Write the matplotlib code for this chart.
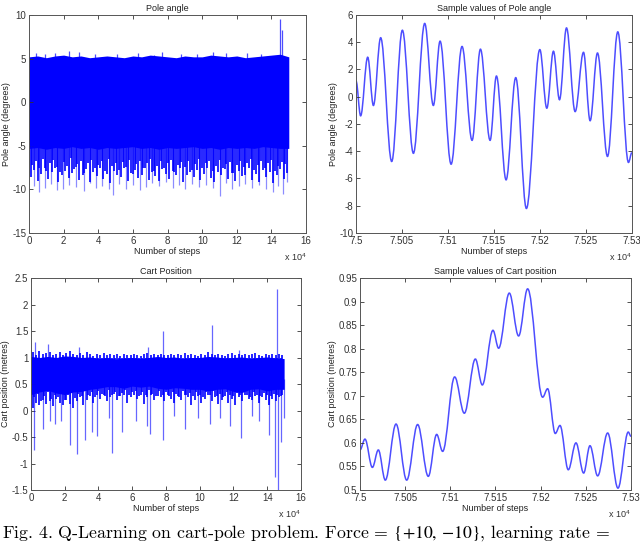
import numpy as np
import matplotlib
matplotlib.use("Agg")
import matplotlib.pyplot as plt
from matplotlib.path import Path
from matplotlib.patches import PathPatch
from matplotlib.ticker import FuncFormatter, MultipleLocator

plt.rcParams["font.family"] = ["Liberation Sans", "DejaVu Sans"]
plt.rcParams["axes.unicode_minus"] = False
plt.rcParams["mathtext.fontset"] = "custom"
plt.rcParams["mathtext.rm"] = "Liberation Sans"
plt.rcParams["mathtext.it"] = "Liberation Sans:italic"

BLUE = "#0000ff"

# ---------------- Pole angle, full run (dense trace, read as envelopes) -------------
pole_env_steps = np.arange(0, 150001, 5000)
pole_upper = [5.2, 5.3, 5.1, 5.3, 5.4, 5.2, 5.3, 5.1, 5.2, 5.3, 5.2, 5.1, 5.3, 5.2, 5.4, 5.3,
              5.2, 5.1, 5.3, 5.2, 5.2, 5.4, 5.3, 5.2, 5.3, 5.1, 5.2, 5.3, 5.4, 5.5, 5.2]
pole_lower = [-5.3, -5.2, -5.4, -5.2, -5.3, -5.1, -5.3, -5.2, -5.4, -5.2, -5.3, -5.2, -5.1, -5.3,
              -5.2, -5.4, -5.2, -5.3, -5.2, -5.1, -5.3, -5.2, -5.4, -5.2, -5.3, -5.2, -5.3, -5.1,
              -5.2, -5.3, -5.3]

pole_dark_steps = np.arange(1000, 150000, 2000)
pole_dark_min = [-8.6, -7.8, -9.0, -8.2, -7.5, -8.8, -8.0, -7.6, -9.2, -8.4,
                 -7.9, -8.7, -8.1, -7.4, -8.9, -8.3, -7.7, -9.1, -8.0, -8.5,
                 -7.6, -8.8, -8.2, -9.3, -7.9, -8.4, -8.6, -7.5, -9.0, -8.1,
                 -7.8, -8.7, -8.3, -7.6, -8.9, -8.0, -8.5, -9.0, -7.7, -8.2,
                 -8.8, -7.9, -8.4, -7.5, -9.1, -8.3, -8.0, -8.6, -7.8, -8.9,
                 -8.2, -7.6, -8.7, -9.2, -8.0, -8.4, -7.7, -8.8, -8.1, -9.0,
                 -7.9, -8.5, -8.3, -7.6, -8.9, -8.2, -9.1, -7.8, -8.6, -8.0,
                 -9.3, -8.4, -7.7, -8.8, -8.1]
pole_dark_steps2 = np.arange(2000, 150000, 2000)
pole_dark_min2 = [-7.2, -6.8, -7.6, -6.5, -7.9, -7.0, -6.6, -7.4, -8.0, -6.9,
                  -7.3, -6.4, -7.7, -7.1, -6.7, -8.1, -7.0, -6.6, -7.5, -7.2,
                  -6.8, -7.9, -6.5, -7.3, -7.0, -7.8, -6.9, -7.4, -6.6, -8.2,
                  -7.1, -6.7, -7.6, -7.0, -6.5, -7.9, -7.3, -6.8, -7.5, -7.0,
                  -6.6, -8.0, -7.2, -6.9, -7.4, -6.7, -7.8, -7.1, -6.5, -7.6,
                  -7.0, -6.8, -7.9, -7.3, -6.6, -7.5, -7.1, -6.9, -8.1, -7.2,
                  -6.7, -7.4, -7.0, -6.5, -7.8, -7.2, -6.8, -7.6, -7.0, -6.6,
                  -7.9, -7.3, -6.9, -7.1]

pole_light_steps = [3000, 5500, 9000, 12500, 16000, 19500, 23000, 27000, 31500, 35000,
                    38500, 42000, 46000, 48500, 52000, 56000, 60000, 64000, 67500, 71000,
                    75000, 79000, 83000, 86500, 90000, 94000, 98000, 102000, 106000, 110000,
                    113500, 117000, 121000, 125000, 129000, 133000, 137000, 141000, 143500,
                    146500, 149000]
pole_light_min = [-9.6, -10.3, -9.8, -9.4, -10.1, -9.9, -9.5, -9.7, -10.2, -9.3,
                  -9.8, -9.6, -10.0, -10.6, -9.4, -9.9, -9.5, -10.1, -9.7, -9.3,
                  -9.6, -9.2, -9.8, -9.5, -9.9, -9.4, -9.7, -9.5, -9.8, -10.7,
                  -9.3, -9.9, -9.6, -9.4, -9.8, -9.5, -10.0, -10.3, -9.6, -10.5, -9.2]

pole_top_steps = [4000, 9000, 15000, 23000, 29000, 38000, 51000, 63000, 72000, 77000, 88000,
                  97000, 106000, 114000, 126000, 134000, 145000, 146000]
pole_top_max = [5.6, 5.5, 5.6, 5.9, 5.7, 5.5, 5.5, 5.6, 5.4, 5.8, 5.5,
                5.5, 5.8, 5.6, 5.6, 5.5, 9.5, 8.3]

# ---------------- Pole angle, sample window (extrema of the trace) -------------
pole_s_steps = [75000, 75005, 75012.7, 75018.9, 75026.8, 75038.8, 75050.4, 75062.4, 75074.7,
                75084.1, 75091.4, 75103.4, 75115.3, 75126.2, 75135.3, 75145.8, 75152.7,
                75163.2, 75173.7, 75185.3, 75199.9, 75207.5, 75214.7, 75221.3, 75228.9,
                75238.3, 75247.4, 75254.6, 75262.6, 75273.5, 75284.7, 75296.3, 75300]
pole_s_vals = [1.15, -1.4, 2.9, -0.64, 4.33, -4.75, 4.88, -4.15, 5.38,
               -0.64, 4.08, -4.95, 3.69, -3.2, 3.49, -3.2, 1.52,
               -6.1, 1.4, -8.2, 3.46, -0.84, 3.34, -0.22, 5.05,
               -1.09, 3.26, -1.76, 3.21, -4.38, 4.76, -4.82, -4.1]

# ---------------- Cart position, full run -------------
cart_env_steps = np.arange(0, 150001, 5000)
cart_upper = [1.02, 1.0, 1.02, 1.0, 1.03, 1.02, 1.0, 1.01, 0.98, 1.0, 0.97, 0.99, 1.0, 0.98,
              1.0, 1.02, 1.0, 1.01, 0.98, 1.0, 1.0, 1.02, 1.01, 0.99, 1.0, 1.01, 0.98, 1.0,
              1.01, 0.99, 0.98]
cart_lower = [0.3, 0.35, 0.38, 0.33, 0.3, 0.35, 0.36, 0.4, 0.42, 0.45, 0.45, 0.42, 0.46, 0.44,
              0.46, 0.42, 0.4, 0.43, 0.42, 0.4, 0.4, 0.37, 0.4, 0.41, 0.36, 0.34, 0.4, 0.41,
              0.37, 0.4, 0.4]

cart_dark_steps = np.arange(1000, 150000, 2000)
cart_dark_min = [0.05, 0.15, 0.1, 0.2, 0.12, 0.18, 0.08, 0.22, 0.15, 0.1,
                 0.2, 0.12, 0.05, 0.18, 0.25, 0.1, 0.2, 0.28, 0.15, 0.3,
                 0.22, 0.3, 0.18, 0.25, 0.32, 0.2, 0.28, 0.3, 0.15, 0.26,
                 0.3, 0.22, 0.3, 0.12, 0.25, 0.3, 0.2, 0.28, 0.25, 0.18,
                 0.3, 0.22, 0.15, 0.28, 0.2, 0.3, 0.25, 0.1, 0.2, 0.28,
                 0.15, 0.22, 0.3, 0.18, 0.25, 0.12, 0.2, 0.28, 0.15, 0.22,
                 0.1, 0.25, 0.18, 0.3, 0.22, 0.2, 0.28, 0.15, 0.25, 0.2,
                 0.1, 0.22, 0.18, 0.25, 0.3]
cart_dark_max = [1.1, 1.05, 1.12, 1.06, 1.08, 1.1, 1.04, 1.07, 1.1, 1.05,
                 1.08, 1.12, 1.06, 1.04, 1.08, 1.05, 1.1, 1.06, 1.03, 1.07,
                 1.05, 1.08, 1.04, 1.06, 1.05, 1.07, 1.03, 1.06, 1.05, 1.04,
                 1.07, 1.05, 1.03, 1.06, 1.08, 1.04, 1.07, 1.05, 1.06, 1.04,
                 1.05, 1.07, 1.04, 1.06, 1.05, 1.08, 1.04, 1.06, 1.05, 1.03,
                 1.07, 1.05, 1.1, 1.06, 1.04, 1.07, 1.05, 1.03, 1.06, 1.08,
                 1.04, 1.06, 1.05, 1.07, 1.04, 1.06, 1.08, 1.05, 1.03, 1.06,
                 1.05, 1.07, 1.04, 1.06, 1.05]
cart_dark_steps2 = np.arange(2000, 150000, 2000)
cart_dark_min2 = [0.25, 0.32, 0.18, 0.28, 0.35, 0.22, 0.3, 0.26, 0.34, 0.2,
                  0.3, 0.36, 0.24, 0.32, 0.28, 0.38, 0.3, 0.34, 0.26, 0.36,
                  0.32, 0.28, 0.38, 0.3, 0.35, 0.27, 0.33, 0.38, 0.3, 0.34,
                  0.36, 0.28, 0.35, 0.3, 0.38, 0.32, 0.27, 0.36, 0.3, 0.34,
                  0.28, 0.35, 0.32, 0.26, 0.36, 0.3, 0.33, 0.28, 0.35, 0.3,
                  0.26, 0.34, 0.3, 0.36, 0.28, 0.32, 0.25, 0.34, 0.3, 0.27,
                  0.33, 0.29, 0.35, 0.3, 0.26, 0.34, 0.3, 0.28, 0.33, 0.3,
                  0.27, 0.32, 0.3, 0.28]

cart_spike_steps = [1500, 2500, 7000, 10000, 11000, 14500, 18000, 23000, 27500, 28500,
                    32000, 36000, 39000, 46000, 48000, 54000, 62000, 68500, 69500, 70500,
                    78000, 78500, 85000, 91000, 99000, 106000, 107000, 112000, 118000,
                    123000, 124500, 131000, 135000, 141000, 144500, 145500, 146500, 148000,
                    150000]
cart_spike_vals = [-0.75, 1.3, -0.35, 1.25, -0.2, -0.25, -0.2, -0.65, -0.83, 1.2,
                   -0.55, -0.4, -0.48, -0.15, -0.8, -0.4, -0.2, -0.3, 1.2, -0.45,
                   -0.55, 1.5, -0.1, -0.35, -0.15, -0.25, 1.62, -0.15, -0.3,
                   1.15, -0.52, -0.1, -0.2, -0.47, -1.25, 2.3, -1.5, -0.6,
                   -0.15]

# ---------------- Cart position, sample window (extrema) -------------
cart_s_steps = [75000, 75005.5, 75013.7, 75020.3, 75028, 75039.9, 75051.7, 75063.8, 75075.6,
                75084.9, 75091.5, 75104.8, 75115.5, 75127.7, 75135.4, 75147.2, 75153.5,
                75165.3, 75175.6, 75185.6, 75202.2, 75207.7, 75216.2, 75221.4, 75230.6,
                75239.1, 75247.6, 75254.6, 75263.1, 75274.2, 75285.6, 75297, 75300]
cart_s_vals = [0.585, 0.608, 0.548, 0.585, 0.521, 0.640, 0.521, 0.639, 0.529,
               0.618, 0.582, 0.740, 0.663, 0.778, 0.723, 0.839, 0.801,
               0.918, 0.827, 0.927, 0.697, 0.715, 0.620, 0.637, 0.543,
               0.600, 0.536, 0.594, 0.530, 0.621, 0.504, 0.623, 0.614]


def smooth_path(xs, ys, k=0.364):
    # cubic segments with flat tangents at each read extremum
    verts = [(xs[0], ys[0])]
    codes = [Path.MOVETO]
    for i in range(1, len(xs)):
        d = xs[i] - xs[i - 1]
        verts += [(xs[i - 1] + k * d, ys[i - 1]), (xs[i] - k * d, ys[i]), (xs[i], ys[i])]
        codes += [Path.CURVE4] * 3
    return Path(verts, codes)


def style(ax, title, ylabel, fs=7):
    ax.set_title(title, fontsize=6.5, pad=3, color="#222222")
    ax.set_xlabel("Number of steps", fontsize=6.5, labelpad=1, color="#222222")
    ax.set_ylabel(ylabel, fontsize=6.5, labelpad=1, color="#222222")
    ax.tick_params(direction="in", top=True, right=True, length=3, width=0.6,
                   labelsize=fs, pad=2, colors="#333333")
    for s in ax.spines.values():
        s.set_linewidth(0.7)
        s.set_color("#555555")
    ax.xaxis.set_major_formatter(FuncFormatter(lambda v, p: "%g" % round(v / 1e4, 4)))
    ax.annotate(r"x 10$^4$", xy=(1, 0), xycoords="axes fraction", xytext=(0, -13),
                textcoords="offset points", ha="right", va="top", fontsize=fs - 0.5,
                color="#333333")


fig = plt.figure(figsize=(6.4, 5.43), dpi=100)

# top left
ax1 = fig.add_axes([0.0453, 0.5709, 0.433, 0.4015])
ax1.fill_between(pole_env_steps, pole_lower, pole_upper, color=BLUE, lw=0)
ax1.vlines(pole_light_steps, -5.0, pole_light_min, color=BLUE, alpha=0.45, lw=0.9)
ax1.vlines(pole_dark_steps, -5.0, pole_dark_min, color=BLUE, lw=1.2)
ax1.vlines(pole_dark_steps2, -5.0, pole_dark_min2, color=BLUE, lw=1.2)
ax1.vlines(pole_top_steps, 5.0, pole_top_max, color=BLUE, alpha=0.7, lw=0.9)
ax1.set_xlim(0, 160000)
ax1.set_ylim(-15, 10)
ax1.xaxis.set_major_locator(MultipleLocator(20000))
ax1.yaxis.set_major_locator(MultipleLocator(5))
style(ax1, "Pole angle", "Pole angle (degrees)", fs=7)

# top right
ax2 = fig.add_axes([0.5563, 0.5709, 0.431, 0.4015])
ax2.add_patch(PathPatch(smooth_path(pole_s_steps, pole_s_vals), fill=False,
                        edgecolor="#4d4dff", lw=1.1))
ax2.set_xlim(75000, 75300)
ax2.set_ylim(-10, 6)
ax2.xaxis.set_major_locator(MultipleLocator(50))
ax2.yaxis.set_major_locator(MultipleLocator(2))
style(ax2, "Sample values of Pole angle", "Pole angle (degrees)", fs=7)

# bottom left
ax3 = fig.add_axes([0.0484, 0.0976, 0.4219, 0.3904])
ax3.fill_between(cart_env_steps, cart_lower, cart_upper, color=BLUE, lw=0)
ax3.vlines(cart_spike_steps, 0.6, cart_spike_vals, color=BLUE, alpha=0.6, lw=0.9)
ax3.vlines(cart_dark_steps, cart_dark_min, cart_dark_max, color=BLUE, lw=1.2)
ax3.vlines(cart_dark_steps2, cart_dark_min2, 1.0, color=BLUE, lw=1.2)
ax3.set_xlim(0, 160000)
ax3.set_ylim(-1.5, 2.5)
ax3.xaxis.set_major_locator(MultipleLocator(20000))
ax3.yaxis.set_major_locator(MultipleLocator(0.5))
ax3.yaxis.set_major_formatter(FuncFormatter(lambda v, p: "%g" % round(v, 2)))
style(ax3, "Cart Position", "Cart position (metres)", fs=7)

# bottom right
ax4 = fig.add_axes([0.5625, 0.0976, 0.4234, 0.3904])
ax4.add_patch(PathPatch(smooth_path(cart_s_steps, cart_s_vals), fill=False,
                        edgecolor="#4d4dff", lw=1.1))
ax4.set_xlim(75000, 75300)
ax4.set_ylim(0.5, 0.95)
ax4.xaxis.set_major_locator(MultipleLocator(50))
ax4.set_yticks(np.arange(10) * 0.05 + 0.5)
ax4.yaxis.set_major_formatter(FuncFormatter(lambda v, p: "%g" % round(v, 2)))
style(ax4, "Sample values of Cart position", "Cart position (metres)", fs=7)

fig.text(0.003, 1 - 537.5 / 543,
         r"Fig. 4. Q-Learning on cart-pole problem. Force = $\{+10,\,{-}10\}$, learning rate =",
         fontsize=12.8, family="cmr10", math_fontfamily="stix", va="baseline", ha="left")

fig.savefig("out.png", dpi=100)
